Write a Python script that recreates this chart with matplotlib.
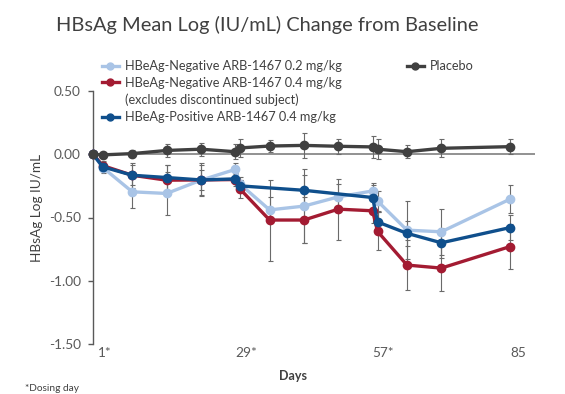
import matplotlib.pyplot as plt
from matplotlib.lines import Line2D

plt.rcParams['font.family'] = ['Lato', 'DejaVu Sans']

# study days of each visit
days_all = [0, 2, 8, 15, 22, 29, 30, 36, 43, 50, 57, 58, 64, 71, 85]
days_pos = [0, 2, 8, 15, 22, 29, 30, 43, 57, 58, 64, 71, 85]

neg_02 = [0, -0.105, -0.297, -0.31, -0.205, -0.12, -0.237, -0.44, -0.41,
          -0.337, -0.29, -0.37, -0.60, -0.613, -0.355]
neg_02_err = [0, 0.04, 0.13, 0.17, 0.12, 0.05, 0.06, 0.10, 0.29, 0.10,
              0.06, 0.08, 0.23, 0.18, 0.11]

neg_04 = [0, -0.09, -0.166, -0.205, -0.203, -0.20, -0.276, -0.52, -0.52,
          -0.434, -0.447, -0.61, -0.876, -0.90, -0.73]
neg_04_err = [0, 0.04, 0.10, 0.12, 0.13, 0.05, 0.07, 0.32, 0.18, 0.24,
              0.10, 0.15, 0.20, 0.18, 0.18]

pos_04 = [0, -0.10, -0.166, -0.184, -0.203, -0.195, -0.25, -0.285, -0.342,
          -0.535, -0.625, -0.70, -0.58]
pos_04_err = [0, 0.03, 0.08, 0.10, 0.08, 0.04, 0.05, 0.12, 0.10, 0.08,
              0.10, 0.12, 0.10]

placebo = [0, -0.005, 0.005, 0.03, 0.04, 0.02, 0.05, 0.065, 0.07, 0.063,
           0.058, 0.04, 0.02, 0.047, 0.06]
placebo_err = [0, 0.01, 0.03, 0.05, 0.05, 0.06, 0.07, 0.05, 0.10, 0.06,
               0.09, 0.08, 0.05, 0.07, 0.06]

tick_days = [1, 29, 57, 85]
tick_labels = ["1*", "29*", "57*", "85"]

C_LIGHT = "#a9c4e6"
C_RED = "#a31b32"
C_DARK = "#0f4f8c"
C_GRAY = "#404040"
C_ERR = "#6a6a6a"

series = [
    (days_all, neg_02, neg_02_err, C_LIGHT),
    (days_all, neg_04, neg_04_err, C_RED),
    (days_pos, pos_04, pos_04_err, C_DARK),
    (days_all, placebo, placebo_err, C_GRAY),
]

fig = plt.figure(figsize=(5.65, 3.94), dpi=100)
ax = fig.add_axes([93 / 565, 1 - 344 / 394, 442 / 565, 253 / 394])

ax.axhline(0, color="#7f7f7f", lw=1.2, zorder=1)

for x, y, err, color in series:
    ax.errorbar(x, y, yerr=err, fmt="none", ecolor=C_ERR, elinewidth=0.8,
                capsize=1.8, capthick=0.8, zorder=2, clip_on=False)
for x, y, err, color in series:
    ax.plot(x, y, color=color, lw=2.4, marker="o", ms=6, zorder=3,
            clip_on=False)

ax.set_xlim(0, 90.1)
ax.set_ylim(-1.5, 0.5)
ax.set_yticks([0.5, 0, -0.5, -1.0, -1.5])
ax.set_yticklabels(["0.50", "0.00", "-0.50", "-1.00", "-1.50"])
ax.set_xticks(tick_days)
ax.set_xticklabels(tick_labels, ha="left")

for s in ["top", "right", "bottom"]:
    ax.spines[s].set_visible(False)
ax.spines["left"].set_color("#595959")
ax.spines["left"].set_linewidth(1.0)
ax.tick_params(axis="y", direction="out", length=3.3, width=1.0,
               color="#595959", pad=5.5, labelsize=9.8, labelcolor="#595959")
ax.tick_params(axis="x", length=0, pad=2, labelsize=9.8, labelcolor="#595959")

fig.text(0.4735, 0.937, "HBsAg Mean Log (IU/mL) Change from Baseline",
         ha="center", va="center", fontsize=14.4, color=C_GRAY)
fig.text(0.065, 0.472, "HBsAg Log IU/mL", rotation=90, ha="center",
         va="center", fontsize=9.8, color=C_GRAY)
fig.text(0.519, 0.046, "Days", ha="center", va="center", fontsize=9,
         fontweight="bold", color=C_GRAY)
fig.text(0.045, 0.015, "*Dosing day", ha="left", va="center", fontsize=7.3,
         color=C_GRAY)

def handle(color):
    return Line2D([], [], color=color, lw=2.4, marker="o", ms=5)

h_left = [handle(C_LIGHT), handle(C_RED), Line2D([], [], lw=0), handle(C_DARK)]
l_left = ["HBeAg-Negative ARB-1467 0.2 mg/kg",
          "HBeAg-Negative ARB-1467 0.4 mg/kg",
          "(excludes discontinued subject)",
          "HBeAg-Positive ARB-1467 0.4 mg/kg"]
fig.legend(h_left, l_left, loc="upper left",
           bbox_to_anchor=(102 / 565, 1 - 60 / 394), frameon=False,
           fontsize=9.2, labelspacing=0.38, handlelength=1.3,
           handletextpad=0.5, borderpad=0, borderaxespad=0,
           labelcolor=C_GRAY)
fig.legend([handle(C_GRAY)], ["Placebo"], loc="upper left",
           bbox_to_anchor=(407 / 565, 1 - 60 / 394), frameon=False,
           fontsize=9.2, handlelength=1.3, handletextpad=0.5, borderpad=0,
           borderaxespad=0, labelcolor=C_GRAY)

fig.savefig("out.png", dpi=100)
